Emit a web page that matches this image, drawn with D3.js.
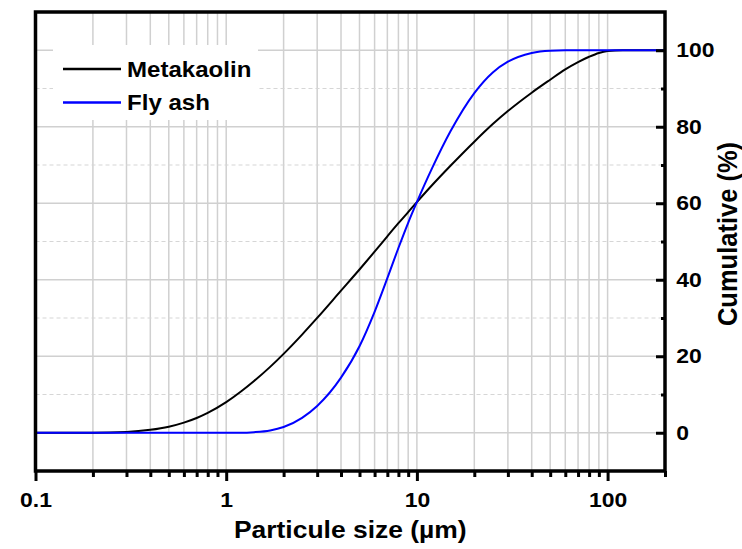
<!DOCTYPE html>
<html>
<head>
<meta charset="utf-8">
<script src="https://cdn.jsdelivr.net/npm/d3@7"></script>
<style>
  body { margin: 0; background: #fff; }
  text { font-family: "Liberation Sans", Arial, sans-serif; font-weight: bold; fill: #000; }
</style>
</head>
<body>
<svg></svg>
<script>
// tamaño de partícula (µm) y % acumulado
let sizes = [0.1, 0.2, 0.3, 0.4, 0.5, 0.6, 0.7, 0.8, 1, 1.2, 1.4, 1.7, 2, 2.5, 3, 4, 5, 6, 7, 8, 9, 10, 12, 15, 20, 25, 30, 40, 50, 60, 70, 80, 90, 100, 120, 150, 200];
let metakaolin = [0, 0, 0.2, 0.76, 1.58, 2.65, 3.86, 5.19, 8.0, 10.84, 13.52, 17.22, 20.63, 25.67, 30.02, 37.15, 42.68, 47.34, 51.36, 54.78, 57.69, 60.3, 64.7, 69.8, 76.1, 80.7, 84.1, 88.9, 92.3, 95.0, 96.9, 98.3, 99.3, 99.8, 100, 100, 100];
let flyAsh = [0, 0, 0, 0, 0, 0, 0, 0, 0, 0, 0.15, 0.6, 1.5, 3.9, 7.0, 14.4, 22.6, 31.6, 40.4, 48.3, 54.9, 60.3, 69.1, 78.8, 88.8, 94.2, 97.0, 99.3, 99.9, 100, 100, 100, 100, 100, 100, 100, 100];

let seriesNames = ["Metakaolin", "Fly ash"];
let seriesColors = ["#000000", "#0000ff"];

let xMajorTicks = [0.1, 1, 10, 100];
let yMajorTicks = [0, 20, 40, 60, 80, 100];
let yMinorTicks = [10, 30, 50, 70, 90];

let svgWidth = 742;
let svgHeight = 549;
let sx = 1.12; // el texto del original está algo estirado en horizontal

let svg = d3.select("svg")
  .attr("width", svgWidth)
  .attr("height", svgHeight);

let pLeft = 35.5, pRight = 665, pTop = 12, pBottom = 471;

let x = d3.scaleLog().domain([0.1, 200]).range([pLeft, pRight]);
let y = d3.scaleLinear().domain([-10, 110]).range([pBottom, pTop]);

// ticks menores logarítmicos (2..9 de cada década)
let xMinorTicks = [];
[0.1, 1, 10, 100].forEach(function (d) {
  for (let k = 2; k <= 9; k++) {
    let v = +(d * k).toPrecision(3);
    if (v <= 200) xMinorTicks.push(v);
  }
});
xMinorTicks.push(200);
let xGrid = xMinorTicks.filter(v => v < 200).concat([1, 10, 100]);

// rejilla
let grid = svg.append("g");
grid.selectAll(".vg").data(xGrid).enter().append("line")
  .attr("x1", d => x(d)).attr("x2", d => x(d))
  .attr("y1", pTop).attr("y2", pBottom)
  .attr("stroke", "#d0d0d0").attr("stroke-width", 1.5);
grid.selectAll(".hg").data(yMajorTicks).enter().append("line")
  .attr("x1", pLeft).attr("x2", pRight)
  .attr("y1", d => y(d)).attr("y2", d => y(d))
  .attr("stroke", "#d0d0d0").attr("stroke-width", 1.5);
grid.selectAll(".hm").data(yMinorTicks).enter().append("line")
  .attr("x1", pLeft).attr("x2", pRight)
  .attr("y1", d => y(d)).attr("y2", d => y(d))
  .attr("stroke", "#d6d6d6").attr("stroke-width", 1.2)
  .attr("stroke-dasharray", "4,3");

// leyenda: caja blanca que tapa la rejilla
let legend = svg.append("g");
legend.append("rect")
  .attr("x", 53).attr("y", 45).attr("width", 205).attr("height", 75)
  .attr("fill", "#fff");

// curvas
let line = d3.line()
  .x(d => x(d[0]))
  .y(d => y(d[1]))
  .curve(d3.curveMonotoneX);

[metakaolin, flyAsh].forEach(function (vals, i) {
  svg.append("path")
    .datum(sizes.map((s, j) => [s, vals[j]]))
    .attr("fill", "none")
    .attr("stroke", seriesColors[i])
    .attr("stroke-width", 2)
    .attr("d", line);
});

seriesNames.forEach(function (name, i) {
  let ly = 69 + i * 33.5;
  legend.append("line")
    .attr("x1", 63).attr("x2", 121).attr("y1", ly).attr("y2", ly)
    .attr("stroke", seriesColors[i]).attr("stroke-width", 2.5);
  legend.append("text")
    .attr("transform", "translate(127," + (ly + 7.8) + ") scale(" + sx + ",1)")
    .style("font-size", "21.5px")
    .text(name);
});

// eje x
let xAxis = svg.append("g")
  .attr("transform", "translate(0," + pBottom + ")")
  .call(d3.axisBottom(x).tickValues(xMajorTicks).tickSize(10).tickPadding(11)
    .tickFormat(d3.format("")));
xAxis.select(".domain").remove();
xAxis.selectAll("line").attr("stroke-width", 3);
xAxis.selectAll("text")
  .style("font-size", "20.5px")
  .attr("transform", "scale(" + sx + ",1)");

let xMinor = svg.append("g")
  .attr("transform", "translate(0," + pBottom + ")")
  .call(d3.axisBottom(x).tickValues(xMinorTicks).tickSize(6).tickFormat(""));
xMinor.select(".domain").remove();
xMinor.selectAll("line").attr("stroke-width", 3);

// eje y (derecha, ticks hacia dentro)
let yAxis = svg.append("g")
  .attr("transform", "translate(" + pRight + ",0)")
  .call(d3.axisRight(y).tickValues(yMajorTicks).tickSize(-9).tickPadding(10));
yAxis.select(".domain").remove();
yAxis.selectAll("line").attr("stroke-width", 3);
yAxis.selectAll("text")
  .style("font-size", "20.5px")
  .attr("transform", "scale(" + sx + ",1)");

let yMinor = svg.append("g")
  .attr("transform", "translate(" + pRight + ",0)")
  .call(d3.axisRight(y).tickValues(yMinorTicks).tickSize(-4).tickFormat(""));
yMinor.select(".domain").remove();
yMinor.selectAll("line").attr("stroke-width", 3);

// marco
svg.append("rect")
  .attr("x", pLeft).attr("y", pTop)
  .attr("width", pRight - pLeft).attr("height", pBottom - pTop)
  .attr("fill", "none").attr("stroke", "#000").attr("stroke-width", 3.5);

// títulos
svg.append("text")
  .attr("transform", "translate(" + ((pLeft + pRight) / 2) + ",538) scale(1.15,1)")
  .attr("text-anchor", "middle")
  .style("font-size", "23px")
  .text("Particule size (µm)");

svg.append("text")
  .attr("transform", "translate(737,234) scale(1.1,1) rotate(-90)")
  .attr("text-anchor", "middle")
  .style("font-size", "25.5px")
  .text("Cumulative (%)");
</script>
</body>
</html>
